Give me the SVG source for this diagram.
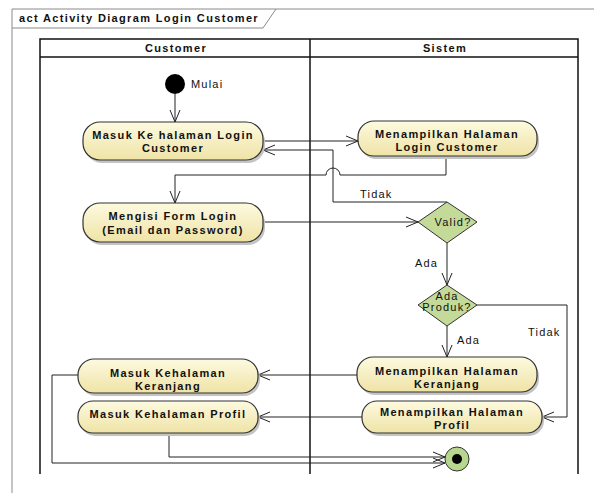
<svg xmlns="http://www.w3.org/2000/svg" width="594" height="493" viewBox="0 0 594 493">
  <defs>
    <linearGradient id="actFill" x1="0" y1="0" x2="0" y2="1">
      <stop offset="0" stop-color="#fdfae0"/>
      <stop offset="1" stop-color="#efe3a6"/>
    </linearGradient>
    <marker id="open" markerUnits="userSpaceOnUse" markerWidth="14" markerHeight="12" refX="13" refY="6" orient="auto">
      <path d="M1,1 L13,6 L1,11" fill="none" stroke="#222" stroke-width="1"/>
    </marker>
  </defs>
  <style>
    .frame { fill: none; stroke: #8a8a8a; stroke-width: 1; }
    .lane { fill: none; stroke: #111; stroke-width: 1.5; }
    .shadow { fill: #c4c4c4; }
    .act { fill: url(#actFill); stroke: #333; stroke-width: 1.2; }
    .dec { fill: #c3da98; stroke: #333; stroke-width: 1; }
    .edge { fill: none; stroke: #222; stroke-width: 1; }
    .t { font-family: "Liberation Sans", Arial, sans-serif; font-size: 11px; fill: #111; letter-spacing: 1.2px; }
    .b { font-weight: bold; letter-spacing: 1.35px; }
    .c { text-anchor: middle; }
  </style>
  <rect width="594" height="493" fill="#ffffff"/>

  <!-- frame -->
  <g id="frame">
    <path class="frame" d="M12,493 V9 H594"/>
    <path class="frame" d="M12,28 H263 L276,9"/>
    <text class="t b" x="19" y="22">act Activity Diagram Login Customer</text>
  </g>

  <!-- swimlanes -->
  <g id="lanes">
    <path class="lane" d="M40,474 V39 H578 V474"/>
    <path class="lane" d="M40,57 H578"/>
    <path class="lane" d="M310,39 V474"/>
    <text class="t b c" x="176" y="52">Customer</text>
    <text class="t b c" x="445" y="52">Sistem</text>
  </g>

  <!-- connectors -->
  <g id="connectors">
    <path class="edge" d="M175,94 V122" marker-end="url(#open)"/>
    <path class="edge" d="M263,141 H358" marker-end="url(#open)"/>
    <path class="edge" d="M446,156 V175 H340 A7,7 0 0 0 326,175 H175 V203" marker-end="url(#open)"/>
    <path class="edge" d="M263,222 H418" marker-end="url(#open)"/>
    <path class="edge" d="M447,202 H333 V150 H263" marker-end="url(#open)"/>
    <path class="edge" d="M447,243 V285" marker-end="url(#open)"/>
    <path class="edge" d="M477,305 H567 V417 H542" marker-end="url(#open)"/>
    <path class="edge" d="M447,326 V357" marker-end="url(#open)"/>
    <path class="edge" d="M357,375 H258" marker-end="url(#open)"/>
    <path class="edge" d="M362,417 H258" marker-end="url(#open)"/>
    <path class="edge" d="M78,375 H52 V463 H445" marker-end="url(#open)"/>
    <path class="edge" d="M169,433 V457 H445" marker-end="url(#open)"/>
    <text class="t" x="360" y="198">Tidak</text>
    <text class="t" x="415" y="267">Ada</text>
    <text class="t" x="457" y="344">Ada</text>
    <text class="t" x="528" y="336">Tidak</text>
  </g>

  <!-- start -->
  <g id="start">
    <circle cx="175" cy="84" r="10" fill="#000"/>
    <text class="t" x="191" y="88">Mulai</text>
  </g>

  <g id="masuk-login">
    <rect class="shadow" x="85" y="125" width="180" height="38" rx="17"/>
    <rect class="act" x="83" y="122" width="180" height="38" rx="17"/>
    <text class="t b c" x="173" y="139">Masuk Ke halaman Login</text>
    <text class="t b c" x="173" y="152">Customer</text>
  </g>

  <g id="tampil-login">
    <rect class="shadow" x="360" y="124" width="179" height="35" rx="16"/>
    <rect class="act" x="358" y="121" width="179" height="35" rx="16"/>
    <text class="t b c" x="447" y="138">Menampilkan Halaman</text>
    <text class="t b c" x="447" y="151">Login Customer</text>
  </g>

  <g id="isi-form">
    <rect class="shadow" x="85" y="206" width="180" height="39" rx="17"/>
    <rect class="act" x="83" y="203" width="180" height="39" rx="17"/>
    <text class="t b c" x="173" y="220">Mengisi Form Login</text>
    <text class="t b c" x="173" y="234">(Email dan Password)</text>
  </g>

  <g id="valid">
    <polygon class="dec" points="447,202 477,222 447,243 418,222"/>
    <text class="t c" x="453" y="226">Valid?</text>
  </g>

  <g id="ada-produk">
    <polygon class="dec" points="447,285 477,305 447,326 418,305"/>
    <text class="t c" x="447" y="300">Ada</text>
    <text class="t c" x="447" y="311">Produk?</text>
  </g>

  <g id="tampil-keranjang">
    <rect class="shadow" x="359" y="360" width="180" height="35" rx="16"/>
    <rect class="act" x="357" y="357" width="180" height="35" rx="16"/>
    <text class="t b c" x="447" y="375">Menampilkan Halaman</text>
    <text class="t b c" x="447" y="388">Keranjang</text>
  </g>

  <g id="tampil-profil">
    <rect class="shadow" x="364" y="404" width="180" height="32" rx="15"/>
    <rect class="act" x="362" y="401" width="180" height="32" rx="15"/>
    <text class="t b c" x="452" y="416">Menampilkan Halaman</text>
    <text class="t b c" x="452" y="429">Profil</text>
  </g>

  <g id="masuk-keranjang">
    <rect class="shadow" x="80" y="362" width="180" height="34" rx="16"/>
    <rect class="act" x="78" y="359" width="180" height="34" rx="16"/>
    <text class="t b c" x="168" y="377">Masuk Kehalaman</text>
    <text class="t b c" x="168" y="390">Keranjang</text>
  </g>

  <g id="masuk-profil">
    <rect class="shadow" x="80" y="404" width="180" height="32" rx="15"/>
    <rect class="act" x="78" y="401" width="180" height="32" rx="15"/>
    <text class="t b c" x="168" y="418">Masuk Kehalaman Profil</text>
  </g>

  <g id="final">
    <circle cx="457" cy="459" r="12" fill="#b8d78e" stroke="#333" stroke-width="1"/>
    <circle cx="457" cy="459" r="5" fill="#000"/>
  </g>
</svg>
